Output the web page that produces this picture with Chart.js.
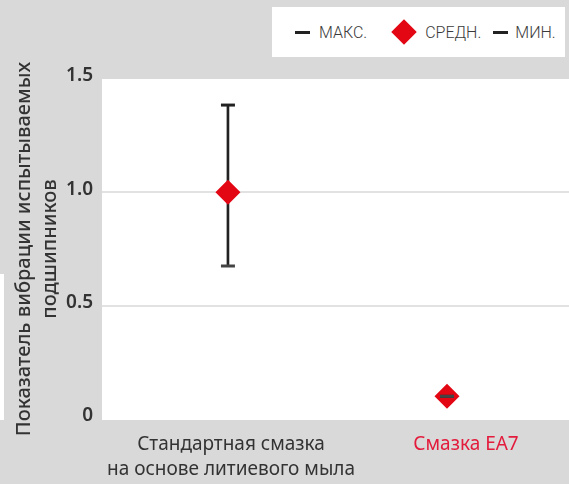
<!DOCTYPE html>
<html lang="ru">
<head>
<meta charset="UTF-8">
<title>Показатель вибрации подшипников</title>
<script src="https://cdn.jsdelivr.net/npm/chart.js@4.4.1/dist/chart.umd.min.js"></script>
<style>
    body { margin: 0; background: #d9d9d9; }
    #wrap { position: relative; width: 569px; height: 484px; background: #d9d9d9; overflow: hidden; }
    #chart { position: absolute; left: 0; top: 0; }
    .sliver { position: absolute; left: 0; top: 274px; width: 4px; height: 146px; background: #fff; }
    #legend {
        position: absolute; left: 272px; top: 7px; width: 293px; height: 50px;
        background: #fff; display: flex; align-items: center;
        font-family: Roboto, "Noto Sans", sans-serif; font-weight: 300; font-size: 16px; color: #3a3a3a;
    }
    #legend .dash { width: 15px; height: 3px; background: #222; display: inline-block; }
    #legend .dia { width: 18px; height: 18px; background: #e30613; transform: rotate(45deg); display: inline-block; }
</style>
</head>
<body>
<div id="wrap">
    <div class="sliver"></div>
    <canvas id="chart" width="569" height="484"></canvas>
    <div id="legend"></div>
</div>
<script>
    // data
    const categories = [['Стандартная смазка', 'на основе литиевого мыла'], 'Смазка EA7'];
    const labelColors = ['#333333', '#e31b3c'];
    const maxValues = [1.385, 0.1];
    const meanValues = [1.0, 0.1];
    const minValues = [0.675, 0.1];
    const yTicks = [0, 0.5, 1.0, 1.5];
    const legendLabels = ['МАКС.', 'СРЕДН.', 'МИН.'];
    const labelAt = [0.014, 1.087]; // where the category names sit on the x scale

    // html legend
    const legend = document.getElementById('legend');
    legend.innerHTML =
        '<span class="dash" style="margin-left:23px"></span>' +
        '<span style="margin-left:9px">' + legendLabels[0] + '</span>' +
        '<span class="dia" style="margin-left:28px"></span>' +
        '<span style="margin-left:12px">' + legendLabels[1] + '</span>' +
        '<span class="dash" style="margin-left:12px"></span>' +
        '<span style="margin-left:7px">' + legendLabels[2] + '</span>';

    const plotBg = {
        id: 'plotBg',
        beforeDraw(chart) {
            const a = chart.chartArea;
            const ctx = chart.ctx;
            ctx.save();
            ctx.fillStyle = '#ffffff';
            ctx.fillRect(a.left, a.top, a.right - a.left, a.bottom - a.top + 1);
            ctx.restore();
        }
    };

    const xs = categories.map((c, i) => i);

    new Chart(document.getElementById('chart'), {
        type: 'bar',
        data: {
            datasets: [
                {
                    type: 'bar',
                    data: xs.map(i => ({ x: i, y: [minValues[i], maxValues[i]] })),
                    backgroundColor: '#222222',
                    barThickness: 2,
                    order: 4
                },
                {
                    type: 'line',
                    data: xs.map(i => ({ x: i, y: meanValues[i] })),
                    showLine: false,
                    pointStyle: 'rectRot',
                    pointRadius: 12.5,
                    pointHoverRadius: 12.5,
                    backgroundColor: '#e30613',
                    borderWidth: 0,
                    order: 3
                },
                {
                    type: 'line',
                    data: xs.map(i => ({ x: i, y: maxValues[i] })),
                    showLine: false,
                    pointStyle: 'line',
                    pointRadius: 7,
                    borderColor: '#222222',
                    pointBorderWidth: 3,
                    order: 2
                },
                {
                    type: 'line',
                    data: xs.map(i => ({ x: i, y: minValues[i] })),
                    showLine: false,
                    pointStyle: 'line',
                    pointRadius: 7,
                    borderColor: '#444444',
                    pointBorderWidth: 3,
                    order: 1
                }
            ]
        },
        options: {
            responsive: false,
            animation: false,
            layout: { autoPadding: false, padding: { top: 79, right: 0, left: 0, bottom: 0 } },
            plugins: { legend: { display: false }, tooltip: { enabled: false } },
            scales: {
                x: {
                    type: 'linear',
                    offset: false,
                    min: -0.575,
                    max: 1.557,
                    afterBuildTicks: scale => { scale.ticks = labelAt.map(v => ({ value: v })); },
                    afterFit: scale => {
                        scale.height = 65;
                        scale.paddingLeft = 0;
                        scale.paddingRight = 0;
                    },
                    grid: { display: false, drawTicks: false, offset: false },
                    border: { display: false },
                    ticks: {
                        padding: 13,
                        autoSkip: false,
                        maxRotation: 0,
                        callback: (v, i) => categories[i],
                        color: ctx => labelColors[ctx.index],
                        font: { family: '"Noto Sans", sans-serif', size: 19, lineHeight: '25px' }
                    }
                },
                y: {
                    min: 0,
                    max: 1.5,
                    afterBuildTicks: scale => { scale.ticks = yTicks.map(v => ({ value: v })); },
                    afterFit: scale => { scale.width = 102; },
                    grid: {
                        drawTicks: false,
                        lineWidth: 2,
                        color: ctx => (ctx.tick && (ctx.tick.value === 0 || ctx.tick.value === 1.5)) ? 'rgba(0,0,0,0)' : '#e2e2e2'
                    },
                    border: { display: false },
                    ticks: {
                        padding: 9,
                        labelOffset: -3,
                        color: '#333333',
                        callback: v => v === 0 ? '0' : v.toFixed(1),
                        font: { family: '"Noto Sans", sans-serif', size: 19, weight: '600' }
                    },
                    title: {
                        display: true,
                        text: ['Показатель вибрации испытываемых', 'подшипников'],
                        color: '#333333',
                        padding: { top: 11, bottom: 0 },
                        font: { family: '"Noto Sans", sans-serif', size: 20, weight: '500', lineHeight: '26px' }
                    }
                }
            }
        },
        plugins: [plotBg]
    });
</script>
</body>
</html>
